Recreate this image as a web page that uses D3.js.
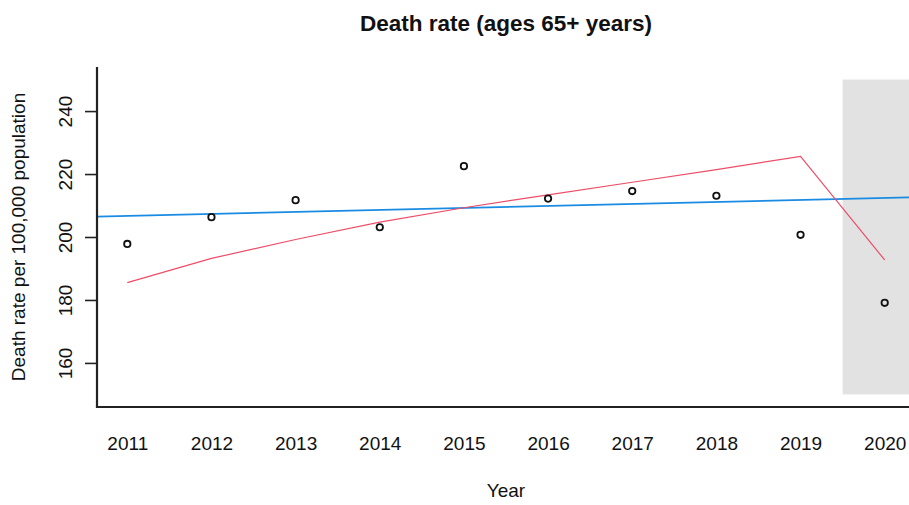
<!DOCTYPE html>
<html>
<head>
<meta charset="utf-8">
<script src="https://cdn.jsdelivr.net/npm/d3@7"></script>
<style>
  html, body { margin: 0; padding: 0; background: #fff; }
  svg { display: block; font-family: "Liberation Sans", Arial, sans-serif; }
</style>
</head>
<body>
<svg id="chart" width="909" height="505"></svg>
<script>
// Observed death rates, ages 65+ (per 100,000)
const years = [2011, 2012, 2013, 2014, 2015, 2016, 2017, 2018, 2019, 2020];
const deathRate = [197.8, 206.3, 211.7, 203.1, 222.5, 212.2, 214.6, 213.1, 200.7, 179.1];

// Fitted segmented model (red)
const fittedRate = [185.5, 193.2, 199.2, 204.7, 209.3, 213.4, 217.4, 221.4, 225.6, 192.7];

// Linear trend (blue), given by two points on the line
const trendYears = [2011, 2020];
const trendRate = [206.7, 212.4];

// Shaded pandemic period
const shadeStart = 2019.5;
const shadeRange = [150, 250];

const yTicks = [160, 180, 200, 220, 240];

const svg = d3.select("#chart");

const margin = { left: 97, right: 915, top: 67, bottom: 407 };
const xPad = (d3.max(years) - d3.min(years)) * 0.04;
const x = d3.scaleLinear()
  .domain([d3.min(years) - xPad, d3.max(years) + xPad])
  .range([margin.left, margin.right]);
const y = d3.scaleLinear()
  .domain([146, 254])
  .range([margin.bottom, margin.top]);

// clip to the plotting region
svg.append("defs").append("clipPath").attr("id", "plotClip")
  .append("rect")
  .attr("x", margin.left).attr("y", margin.top)
  .attr("width", margin.right - margin.left)
  .attr("height", margin.bottom - margin.top);

const plot = svg.append("g").attr("clip-path", "url(#plotClip)");

// shaded region
plot.append("rect")
  .attr("x", x(shadeStart))
  .attr("y", y(shadeRange[1]))
  .attr("width", x.range()[1] - x(shadeStart) + 20)
  .attr("height", y(shadeRange[0]) - y(shadeRange[1]))
  .attr("fill", "#e2e2e2");

// linear trend across the full plotting width
const slope = (trendRate[1] - trendRate[0]) / (trendYears[1] - trendYears[0]);
const [x0, x1] = x.domain();
const trendLine = [
  [x0, trendRate[0] + slope * (x0 - trendYears[0])],
  [x1, trendRate[0] + slope * (x1 - trendYears[0])]
];
plot.append("path")
  .datum(trendLine)
  .attr("fill", "none")
  .attr("stroke", "#1a8be3")
  .attr("stroke-width", 1.8)
  .attr("d", d3.line().x(d => x(d[0])).y(d => y(d[1])));

// fitted model
plot.append("path")
  .datum(years.map((yr, i) => [yr, fittedRate[i]]))
  .attr("fill", "none")
  .attr("stroke", "#ee4d68")
  .attr("stroke-width", 1.2)
  .attr("d", d3.line().x(d => x(d[0])).y(d => y(d[1])));

// observed points
plot.selectAll("circle.obs")
  .data(years.map((yr, i) => [yr, deathRate[i]]))
  .join("circle")
  .attr("class", "obs")
  .attr("cx", d => x(d[0]))
  .attr("cy", d => y(d[1]))
  .attr("r", 3.2)
  .attr("fill", "none")
  .attr("stroke", "#111")
  .attr("stroke-width", 1.8);

// y axis
const yAxis = d3.axisLeft(y).tickValues(yTicks).tickSize(12).tickFormat(d3.format("d"));
const gy = svg.append("g")
  .attr("transform", `translate(${margin.left},0)`)
  .call(yAxis);
gy.select(".domain").remove();
gy.selectAll(".tick line").attr("stroke", "#222").attr("stroke-width", 1.6);
gy.selectAll(".tick text")
  .attr("x", 0).attr("dy", null).attr("dx", null)
  .attr("transform", "translate(-25,0) rotate(-90)")
  .attr("text-anchor", "middle")
  .attr("fill", "#111")
  .style("font-size", "19px");

svg.append("line")
  .attr("x1", margin.left).attr("x2", margin.left)
  .attr("y1", margin.top).attr("y2", margin.bottom)
  .attr("stroke", "#222").attr("stroke-width", 2.2);

// x axis (labels only, baseline rule)
svg.append("line")
  .attr("x1", margin.left - 1.1).attr("x2", 909)
  .attr("y1", margin.bottom).attr("y2", margin.bottom)
  .attr("stroke", "#222").attr("stroke-width", 2.2);

const xAxis = d3.axisBottom(x).tickValues(years).tickSize(0).tickFormat(d3.format("d"));
const gx = svg.append("g")
  .attr("transform", `translate(0,${margin.bottom})`)
  .call(xAxis);
gx.select(".domain").remove();
gx.selectAll(".tick text")
  .attr("y", 43).attr("dy", null)
  .attr("fill", "#111")
  .style("font-size", "19px");

// titles
svg.append("text")
  .attr("x", (margin.left + margin.right) / 2)
  .attr("y", 31)
  .attr("text-anchor", "middle")
  .style("font-size", "22.5px")
  .style("font-weight", "bold")
  .attr("fill", "#111")
  .text("Death rate (ages 65+ years)");

svg.append("text")
  .attr("x", (margin.left + margin.right) / 2)
  .attr("y", 497)
  .attr("text-anchor", "middle")
  .style("font-size", "19px")
  .attr("fill", "#111")
  .text("Year");

svg.append("text")
  .attr("transform", `translate(25,${(margin.top + margin.bottom) / 2}) rotate(-90)`)
  .attr("text-anchor", "middle")
  .style("font-size", "19px")
  .attr("fill", "#111")
  .text("Death rate per 100,000 population");
</script>
</body>
</html>
